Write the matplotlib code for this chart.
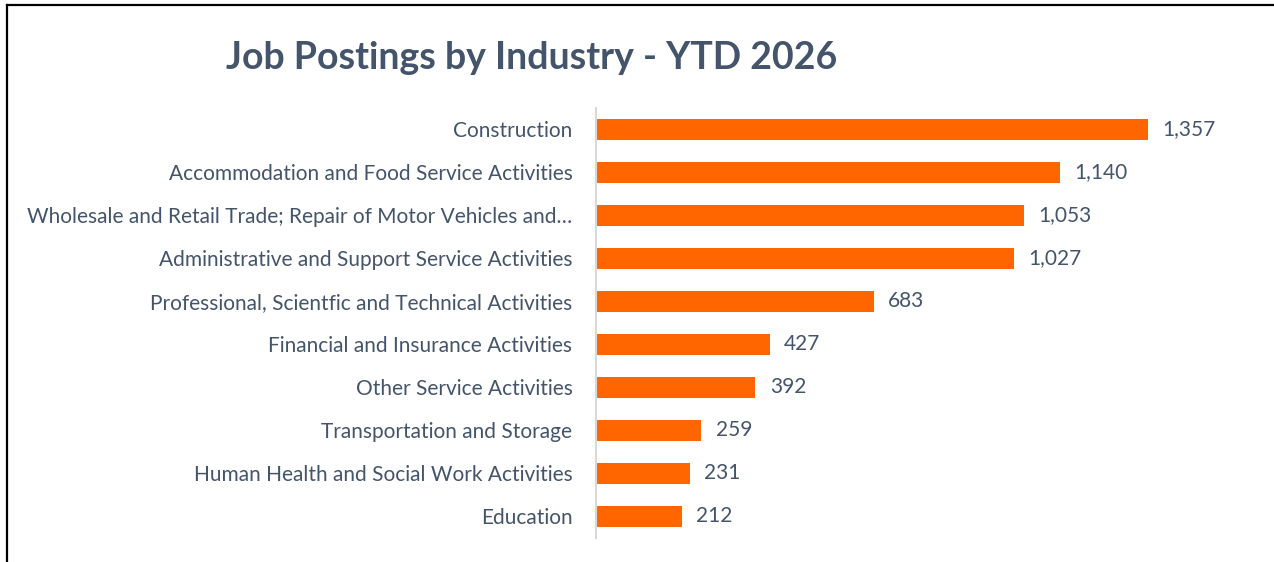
import matplotlib.pyplot as plt
from matplotlib.lines import Line2D

industries = [
    "Construction",
    "Accommodation and Food Service Activities",
    "Wholesale and Retail Trade; Repair of Motor Vehicles and\u2026",
    "Administrative and Support Service Activities",
    "Professional, Scientfic and Technical Activities",
    "Financial and Insurance Activities",
    "Other Service Activities",
    "Transportation and Storage",
    "Human Health and Social Work Activities",
    "Education",
]
postings = [1357, 1140, 1053, 1027, 683, 427, 392, 259, 231, 212]

W, H = 1274, 562
fig = plt.figure(figsize=(W / 100, H / 100), dpi=100)
fig.patch.set_facecolor("white")

text_color = "#44546A"
bar_color = "#FF6600"

# axes placed in pixel terms
left, right, top, bottom = 596, 596 + 651, 108, 538
ax = fig.add_axes([left / W, 1 - bottom / H, (right - left) / W, (bottom - top) / H])

ypos = list(range(len(industries)))
ax.barh(ypos, postings, height=0.49, color=bar_color)
ax.set_xlim(0, 1600)
ax.set_ylim(len(industries) - 0.5, -0.5)

ax.set_yticks(ypos)
ax.set_yticklabels(industries, fontsize=15, color=text_color, fontfamily="Lato")
ax.tick_params(axis="y", length=0, pad=17)
ax.set_xticks([])

for s in ["top", "right", "bottom"]:
    ax.spines[s].set_visible(False)
ax.spines["left"].set_color("#D9D9D9")
ax.spines["left"].set_linewidth(1.5)

for y, v in zip(ypos, postings):
    ax.text(v + 35, y, f"{v:,}", va="center", ha="left", fontsize=15,
            color=text_color, fontfamily="Lato")

fig.text(226 / W, 1 - 58 / H, "Job Postings by Industry - YTD 2026", fontsize=27,
         fontweight="bold", color=text_color, fontfamily="Lato", va="center", ha="left")

# outer frame (left and top edges)
fig.add_artist(Line2D([7 / W, 7 / W], [0, 1 - 5 / H], color="black", lw=1.6))
fig.add_artist(Line2D([7 / W, 1], [1 - 5 / H, 1 - 5 / H], color="black", lw=1.6))

fig.savefig("out.png", dpi=100, facecolor="white")
